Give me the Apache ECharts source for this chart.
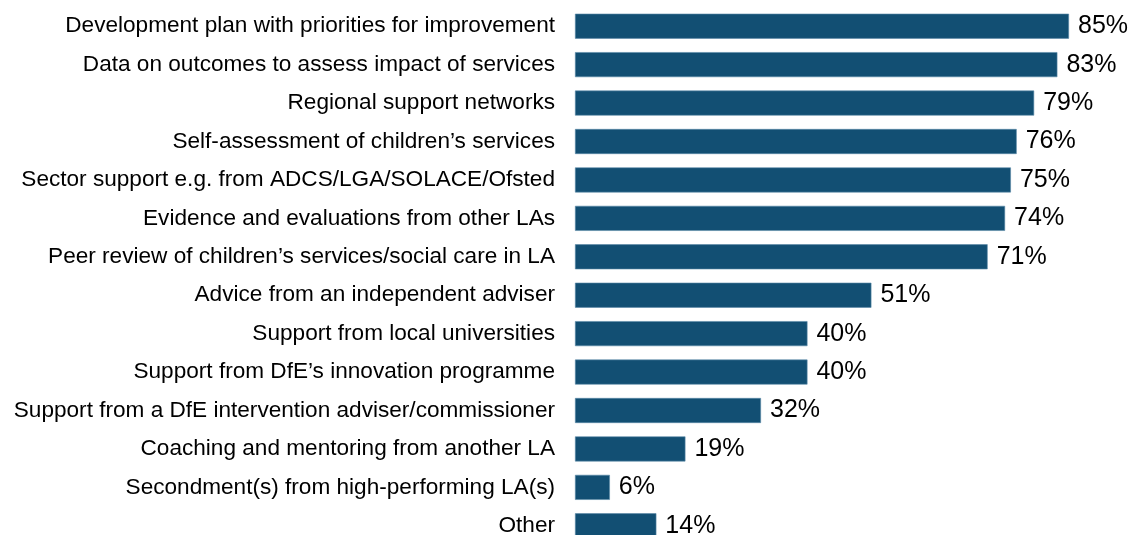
<!DOCTYPE html>
<html>
<head>
<meta charset="utf-8">
<script src="https://cdn.jsdelivr.net/npm/echarts@6/dist/echarts.min.js"></script>
<style>
  html, body { margin: 0; padding: 0; background: #fff; }
  #chart { width: 1129px; height: 535px; }
</style>
</head>
<body>
<div id="chart"></div>
<script>
const categories = [
  'Development plan with priorities for improvement',
  'Data on outcomes to assess impact of services',
  'Regional support networks',
  'Self-assessment of children\u2019s services',
  'Sector support e.g. from ADCS/LGA/SOLACE/Ofsted',
  'Evidence and evaluations from other LAs',
  'Peer review of children\u2019s services/social care in LA',
  'Advice from an independent adviser',
  'Support from local universities',
  'Support from DfE\u2019s innovation programme',
  'Support from a DfE intervention adviser/commissioner',
  'Coaching and mentoring from another LA',
  'Secondment(s) from high-performing LA(s)',
  'Other'
]
const values = [85, 83, 79, 76, 75, 74, 71, 51, 40, 40, 32, 19, 6, 14]

const myChart = echarts.init(document.getElementById('chart'))
myChart.setOption({
  animation: false,
  grid: {
    left: 575,
    top: 7,
    width: 494,
    height: 538,
    outerBoundsMode: 'none'
  },
  xAxis: {
    type: 'value',
    min: 0,
    max: 85,
    show: false
  },
  yAxis: {
    type: 'category',
    data: categories,
    inverse: true,
    axisLine: { show: false },
    axisTick: { show: false },
    axisLabel: {
      margin: 20,
      fontFamily: 'Liberation Sans',
      fontSize: 22.6,
      color: '#000'
    }
  },
  series: [
    {
      type: 'bar',
      data: values,
      barWidth: 25,
      itemStyle: {
        color: '#124f73',
        borderColor: '#5a8aa8',
        borderWidth: 0.6
      },
      label: {
        show: true,
        position: 'right',
        distance: 9,
        formatter: '{c}%',
        fontFamily: 'Liberation Sans',
        fontSize: 25,
        color: '#000'
      }
    }
  ]
})
</script>
</body>
</html>
